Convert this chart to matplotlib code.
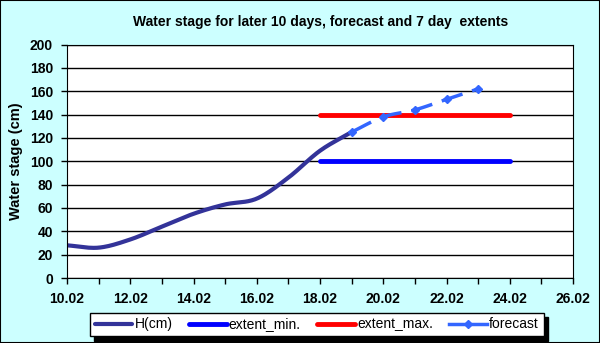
import numpy as np
import matplotlib
matplotlib.use("Agg")
import matplotlib.pyplot as plt

plt.rcParams['font.family'] = ['Liberation Sans', 'DejaVu Sans']

# observed water stage (day of February, cm)
h_days = [10, 11, 12, 13, 14, 15, 16, 17, 18, 19]
h_vals = [28, 26, 33, 44, 55, 63, 68, 86, 109, 125]

# forecast
fc_days = [19, 20, 21, 22, 23]
fc_vals = [125, 138, 144, 153, 162]

# 7 day extents
ext_days = [18, 24]
ext_min = [100, 100]
ext_max = [140, 140]

xtick_days = list(range(10, 27, 2))
xtick_labels = ["10.02", "12.02", "14.02", "16.02", "18.02", "20.02", "22.02", "24.02", "26.02"]


def smooth(x, y, n=20):
    # catmull-rom style smoothing like the excel "smoothed line"
    x = np.asarray(x, float)
    y = np.asarray(y, float)
    px = np.concatenate([[2 * x[0] - x[1]], x, [2 * x[-1] - x[-2]]])
    py = np.concatenate([[2 * y[0] - y[1]], y, [2 * y[-1] - y[-2]]])
    xs, ys = [], []
    t = np.linspace(0, 1, n)
    for i in range(1, len(px) - 2):
        for p, out in ((px, xs), (py, ys)):
            p0, p1, p2, p3 = p[i - 1], p[i], p[i + 1], p[i + 2]
            out.extend(0.5 * ((2 * p1) + (-p0 + p2) * t
                              + (2 * p0 - 5 * p1 + 4 * p2 - p3) * t ** 2
                              + (-p0 + 3 * p1 - 3 * p2 + p3) * t ** 3))
    return xs, ys


fig = plt.figure(figsize=(6, 3.43), dpi=100, facecolor='#CCFFFF')
fig.patches.append(plt.Rectangle((0, 0), 1, 1, transform=fig.transFigure,
                                 fill=False, edgecolor='black', linewidth=1.5))
ax = fig.add_axes([67 / 600, 65 / 343, 506 / 600, 233.5 / 343])
ax.set_facecolor('white')

sx, sy = smooth(h_days, h_vals)
ax.plot(sx, sy, color='#333399', linewidth=3, label='H(cm)', solid_capstyle='round')
ax.plot(ext_days, ext_min, color='#0000FF', linewidth=3.5, label='extent_min.', solid_capstyle='round')
ax.plot(ext_days, ext_max, color='#FF0000', linewidth=3.5, label='extent_max.', solid_capstyle='round')
fx, fy = smooth(fc_days, fc_vals)
ax.plot(fx, fy, color='#3366FF', linewidth=2.5, dashes=(6.3, 2.9), label='_nolegend_')
ax.plot(fc_days, fc_vals, color='#3366FF', linestyle='none', marker='D', markersize=4)
ax.plot([], [], color='#3366FF', linewidth=2.5, marker='D', markersize=4, label='forecast')

ax.set_xlim(10, 26)
ax.set_ylim(0, 200)
ax.set_yticks(range(0, 201, 20))
ax.set_xticks(xtick_days)
ax.set_xticklabels(xtick_labels)
ax.set_xticks(range(10, 27), minor=True)
ax.yaxis.grid(True, color='black', linewidth=1)
ax.set_axisbelow(True)
for s in ax.spines.values():
    s.set_color('black')
ax.tick_params(axis='both', which='both', direction='out', length=4, width=1,
               labelsize=10, pad=6)
for lab in ax.get_xticklabels() + ax.get_yticklabels():
    lab.set_fontweight('bold')

ax.set_ylabel('Water stage (cm)', fontsize=10.5, fontweight='bold', labelpad=5)
fig.text(0.535, 0.936, 'Water stage for later 10 days, forecast and 7 day  extents',
         ha='center', va='center', fontsize=10, fontweight='bold')

leg = fig.legend(loc='center', bbox_to_anchor=(0.528, 0.054), ncol=4, fontsize=10,
                 frameon=True, fancybox=False, edgecolor='black', framealpha=1,
                 handlelength=2.7, columnspacing=1.2, handletextpad=0.15,
                 borderpad=0.35, shadow={'color': 'black', 'alpha': 1, 'ox': 3, 'oy': -3})
leg.get_frame().set_linewidth(1)

fig.savefig('out.png', dpi=100, facecolor=fig.get_facecolor())
